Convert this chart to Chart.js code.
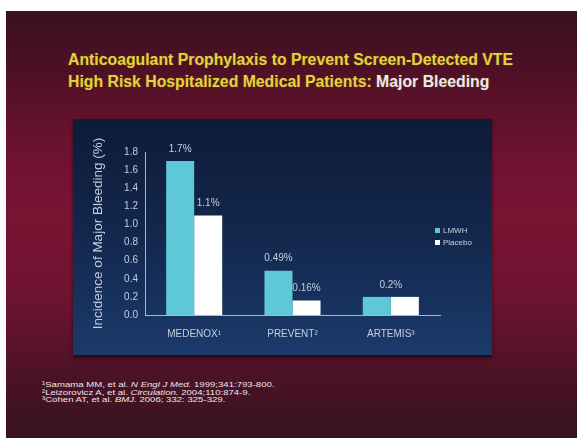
<!DOCTYPE html>
<html>
<head>
<meta charset="utf-8">
<script src="https://cdn.jsdelivr.net/npm/chart.js@4/dist/chart.umd.min.js"></script>
<style>
  html, body { margin: 0; padding: 0; background: #ffffff; }
  body { width: 577px; height: 438px; position: relative; overflow: hidden; font-family: "Liberation Sans", Arial, sans-serif; }
  .slide {
    position: absolute; left: 6px; top: 11px; width: 571px; height: 427px;
    background: linear-gradient(to bottom, #3a1120 0%, #4e1026 14%, #6c1230 32%, #7a1433 48%, #6e1330 66%, #4f1227 84%, #36131f 100%);
  }
  .title {
    position: absolute; left: 68px; top: 49px; white-space: nowrap;
    font-weight: bold; font-size: 15.8px; line-height: 22px; color: #e4d23e;
    text-shadow: 0 0 2px rgba(120,100,0,0.6);
  }
  .title .hl { color: #f0e6ee; }
  .panel {
    position: absolute; left: 73px; top: 119px; width: 419px; height: 236px;
    background: linear-gradient(to bottom, #0e1b38 0%, #13284d 50%, #1b3a6b 100%);
    box-shadow: 0 3px 3px rgba(0,0,0,0.55);
  }
  .panel canvas { position: absolute; left: 0; top: 0; }
  .legend { position: absolute; left: 362px; top: 106px; font-size: 8px; color: #c8d2e2; }
  .legend div { height: 12px; line-height: 12px; white-space: nowrap; }
  .legend span.sw { display: inline-block; width: 5px; height: 5px; margin-right: 3px; vertical-align: 0px; }
  .refs {
    position: absolute; left: 42px; top: 381px; font-size: 9.6px; line-height: 10px; color: #f0e6ec; white-space: nowrap;
    transform: scaleY(0.76); transform-origin: 0 0;
  }
</style>
</head>
<body>
<div class="slide"></div>
<div class="title">
  <div>Anticoagulant Prophylaxis to Prevent Screen-Detected VTE</div>
  <div>High Risk Hospitalized Medical Patients: <span class="hl">Major Bleeding</span></div>
</div>
<div class="panel">
  <canvas id="chart" width="419" height="236"></canvas>
  <div class="legend" id="legend"></div>
</div>
<div class="refs">
  <div>¹Samama MM, et al. <i>N Engl J Med.</i> 1999;341:793-800.</div>
  <div>²Leizorovicz A, et al. <i>Circulation.</i> 2004;110:874-9.</div>
  <div>³Cohen AT, et al. <i>BMJ.</i> 2006; 332: 325-329.</div>
</div>
<script>
// Trials and major-bleeding incidence (%)
const trials = ['MEDENOX¹', 'PREVENT²', 'ARTEMIS³'];
const seriesNames = ['LMWH', 'Placebo'];
const lmwhValues = [1.7, 0.49, 0.2];
const placeboValues = [1.1, 0.16, 0.2];
const yTicks = [0, 0.2, 0.4, 0.6, 0.8, 1.0, 1.2, 1.4, 1.6, 1.8];

const seriesColors = ['#5fc8d8', '#ffffff'];
const textColor = '#c4cee0';
const axisColor = '#a9b6cc';
const fontFamily = '"Liberation Sans", Arial, sans-serif';

// Legend built from the series names and colours
const legendEl = document.getElementById('legend');
seriesNames.forEach((name, i) => {
  const row = document.createElement('div');
  const sw = document.createElement('span');
  sw.className = 'sw';
  sw.style.background = seriesColors[i];
  row.appendChild(sw);
  row.appendChild(document.createTextNode(name));
  legendEl.appendChild(row);
});

// Percent labels above the bars; equal pairs share one centred label
const valueLabels = {
  id: 'valueLabels',
  afterDatasetsDraw(chart) {
    const ctx = chart.ctx;
    const m0 = chart.getDatasetMeta(0);
    const m1 = chart.getDatasetMeta(1);
    const d0 = chart.data.datasets[0].data;
    const d1 = chart.data.datasets[1].data;
    ctx.save();
    ctx.font = '10px ' + fontFamily;
    ctx.fillStyle = textColor;
    ctx.textAlign = 'center';
    ctx.textBaseline = 'middle';
    const off = 12;
    d0.forEach((v, i) => {
      const a = m0.data[i], b = m1.data[i];
      if (v === d1[i]) {
        ctx.fillText(v + '%', (a.x + b.x) / 2, Math.min(a.y, b.y) - off);
      } else {
        ctx.fillText(v + '%', a.x, a.y - off);
        ctx.fillText(d1[i] + '%', b.x, b.y - off);
      }
    });
    ctx.restore();
  }
};

new Chart(document.getElementById('chart'), {
  type: 'bar',
  data: {
    labels: trials,
    datasets: [
      { label: seriesNames[0], data: lmwhValues, backgroundColor: seriesColors[0], borderWidth: 0 },
      { label: seriesNames[1], data: placeboValues, backgroundColor: seriesColors[1], borderWidth: 0 }
    ]
  },
  options: {
    responsive: false,
    animation: false,
    events: [],
    datasets: { bar: { barPercentage: 1.0, categoryPercentage: 0.57 } },
    layout: { padding: { top: 33, right: 52, left: 17, bottom: 0 } },
    plugins: { legend: { display: false }, tooltip: { enabled: false } },
    scales: {
      x: {
        grid: { display: false, drawTicks: false },
        border: { display: true, color: axisColor, width: 1 },
        ticks: { color: textColor, font: { size: 10, family: fontFamily }, padding: 13 },
        afterFit(scale) { scale.height = 40; }
      },
      y: {
        min: 0, max: 1.8,
        afterBuildTicks(scale) { scale.ticks = yTicks.map(v => ({ value: v })); },
        grid: { display: false, drawTicks: false },
        border: { display: true, color: axisColor, width: 1 },
        ticks: {
          color: textColor, padding: 7,
          font: { size: 10, family: fontFamily },
          callback: v => Number(v).toFixed(1)
        },
        title: {
          display: true, text: 'Incidence of Major Bleeding (%)', color: textColor,
          font: { size: 13.5, family: fontFamily }, padding: 0
        },
        afterFit(scale) { scale.width = 55; }
      }
    }
  },
  plugins: [valueLabels]
});
</script>
</body>
</html>
